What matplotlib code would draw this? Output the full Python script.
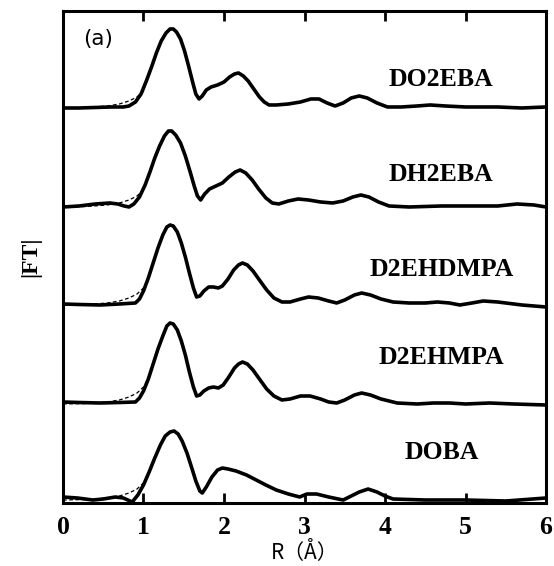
import matplotlib
matplotlib.use('Agg')
import matplotlib.pyplot as plt

# |FT| curves (height above each curve's own baseline)
names = ['DO2EBA', 'DH2EBA', 'D2EHDMPA', 'D2EHMPA', 'DOBA']
offsets = [395, 296, 198, 99, 3]

r_do2eba = [0, 0.2, 0.4, 0.6, 0.75, 0.82, 0.9, 0.97, 1.04, 1.1, 1.16, 1.22, 1.28, 1.33, 1.37, 1.41, 1.46, 1.51, 1.56, 1.61, 1.65, 1.69, 1.73, 1.78, 1.84, 1.92, 2.0, 2.07, 2.13, 2.18, 2.24, 2.3, 2.37, 2.44, 2.5, 2.56, 2.65, 2.8, 2.95, 3.08, 3.18, 3.28, 3.38, 3.48, 3.58, 3.68, 3.78, 3.9, 4.03, 4.2, 4.4, 4.56, 4.75, 5.0, 5.4, 5.7, 6.0]
y_do2eba = [0, 0, 0.5, 1, 1, 2, 6, 14, 28, 41, 55, 67, 75, 79, 79, 76, 69, 57, 42, 26, 14, 9, 12, 18, 21, 23, 26, 31, 34, 35, 32, 27, 19, 11, 6, 3, 3, 4, 6, 9, 9, 5, 2, 5, 10, 12, 10, 5, 1, 1, 2, 3, 2, 1, 1, 0, 1]

r_dh2eba = [0, 0.2, 0.4, 0.58, 0.68, 0.76, 0.82, 0.88, 0.95, 1.02, 1.08, 1.14, 1.2, 1.26, 1.31, 1.35, 1.4, 1.46, 1.52, 1.58, 1.63, 1.67, 1.71, 1.76, 1.82, 1.9, 1.98, 2.06, 2.14, 2.2, 2.27, 2.35, 2.43, 2.52, 2.6, 2.68, 2.8, 2.92, 3.05, 3.2, 3.35, 3.48, 3.6, 3.7, 3.8, 3.92, 4.05, 4.3, 4.7, 5.1, 5.4, 5.64, 5.85, 6.0]
y_dh2eba = [0, 1, 3, 4, 3, 1, 0, 3, 10, 22, 35, 49, 61, 71, 76, 76, 72, 64, 51, 35, 21, 11, 7, 13, 18, 21, 24, 30, 35, 37, 34, 27, 18, 9, 4, 3, 6, 8, 7, 5, 4, 6, 10, 12, 10, 5, 1, 0, 1, 1, 1, 3, 2, 0]

r_d2ehdmpa = [0, 0.2, 0.46, 0.7, 0.9, 0.95, 1.0, 1.06, 1.12, 1.18, 1.24, 1.29, 1.33, 1.37, 1.42, 1.47, 1.52, 1.57, 1.62, 1.66, 1.7, 1.75, 1.81, 1.87, 1.93, 1.98, 2.05, 2.12, 2.18, 2.23, 2.29, 2.36, 2.44, 2.53, 2.62, 2.72, 2.82, 2.95, 3.05, 3.17, 3.3, 3.4, 3.5, 3.62, 3.71, 3.82, 3.95, 4.1, 4.3, 4.5, 4.65, 4.8, 4.93, 5.08, 5.22, 5.4, 5.7, 6.0]
y_d2ehdmpa = [1, 0.5, 0, 1, 2, 6, 14, 27, 42, 57, 70, 78, 80, 79, 73, 62, 48, 32, 17, 8, 9, 14, 18, 18, 17, 19, 26, 35, 40, 42, 40, 34, 25, 15, 7, 3, 3, 6, 8, 7, 4, 2, 5, 10, 12, 10, 6, 3, 2, 2, 3, 2, 0, 2, 4, 3, 0, -2]

r_d2ehmpa = [0, 0.2, 0.46, 0.7, 0.9, 0.95, 1.0, 1.06, 1.12, 1.18, 1.24, 1.29, 1.33, 1.37, 1.42, 1.47, 1.52, 1.57, 1.62, 1.66, 1.7, 1.75, 1.81, 1.87, 1.93, 1.99, 2.06, 2.13, 2.18, 2.23, 2.29, 2.36, 2.44, 2.53, 2.62, 2.72, 2.82, 2.95, 3.07, 3.2, 3.3, 3.4, 3.5, 3.62, 3.71, 3.82, 3.95, 4.15, 4.4, 4.6, 4.8, 5.0, 5.3, 5.6, 6.0]
y_d2ehmpa = [2, 1.5, 1, 1.5, 2, 6, 13, 25, 40, 55, 68, 78, 81, 80, 74, 63, 49, 32, 17, 8, 9, 13, 16, 17, 16, 19, 27, 36, 40, 42, 40, 34, 25, 15, 8, 4, 5, 8, 8, 5, 2, 1, 4, 9, 11, 9, 5, 1, 0, 1, 1, 0, 1, 0, -1]

r_doba = [0, 0.18, 0.37, 0.5, 0.65, 0.75, 0.86, 0.93, 1.0, 1.07, 1.14, 1.21, 1.27, 1.33, 1.38, 1.43, 1.48, 1.54, 1.6, 1.65, 1.7, 1.73, 1.78, 1.85, 1.92, 1.98, 2.05, 2.15, 2.28, 2.4, 2.52, 2.65, 2.8, 2.94, 3.03, 3.15, 3.3, 3.48, 3.58, 3.68, 3.79, 3.9, 4.0, 4.1, 4.5, 5.0, 5.5, 6.0]
y_doba = [3, 2, 0, 1, 3, 2, -2, 5, 15, 28, 42, 55, 64, 68, 69, 66, 59, 47, 32, 19, 9, 7, 13, 23, 30, 32, 31, 29, 25, 20, 15, 10, 6, 3, 6, 6, 3, 0, 4, 8, 11, 8, 4, 1, 0, 0, -1, 2]

# fits (thin dashed): own values at low R, then they run with the data
r_fit = [0, 0.3, 0.55, 0.7, 0.82, 0.92, 1.0]
y_fit_low = [0, 0.5, 2, 4, 7, 11, 17]

exp_r = [r_do2eba, r_dh2eba, r_d2ehdmpa, r_d2ehmpa, r_doba]
exp_y = [y_do2eba, y_dh2eba, y_d2ehdmpa, y_d2ehmpa, y_doba]

fig = plt.figure(figsize=(5.54, 5.66), dpi=100)
ax = fig.add_axes([0.1137, 0.1113, 0.8719, 0.8693])

for r, y, off in zip(exp_r, exp_y, offsets):
    fr = r_fit + [v for v in r if v > 1.02]
    fy = y_fit_low + [v for v_r, v in zip(r, y) if v_r > 1.02]
    ax.plot(fr, [v + off for v in fy], color='black', lw=0.9, ls=(0, (3, 2)))
    ax.plot(r, [v + off for v in y], color='black', lw=2.6,
            solid_joinstyle='round', solid_capstyle='round')

label_y = [423, 328, 233, 145, 51]
for name, ly in zip(names, label_y):
    ax.text(4.7, ly, name, ha='center', va='center', fontsize=18.5,
            fontweight='bold', family='Liberation Serif')

ax.text(0.25, 464, '(a)', ha='left', va='center', fontsize=15.5, family='DejaVu Sans')

ax.set_xlim(0, 6)
ax.set_ylim(0, 492)
ax.set_xticks([0, 1, 2, 3, 4, 5, 6])
ax.set_xticklabels(['0', '1', '2', '3', '4', '5', '6'], fontsize=18.5,
                   fontweight='bold', family='Liberation Serif')
ax.set_yticks([])
ax.tick_params(axis='x', direction='in', length=7, width=2, top=True, pad=9)
for s in ax.spines.values():
    s.set_linewidth(2.2)

ax.set_xlabel('R（Å）', fontsize=15, family=['Noto Sans CJK SC', 'DejaVu Sans'], labelpad=2)
ax.set_ylabel('|FT|', fontsize=17, fontweight='bold', family='Liberation Serif', labelpad=16)

fig.savefig('out.png', dpi=100)
